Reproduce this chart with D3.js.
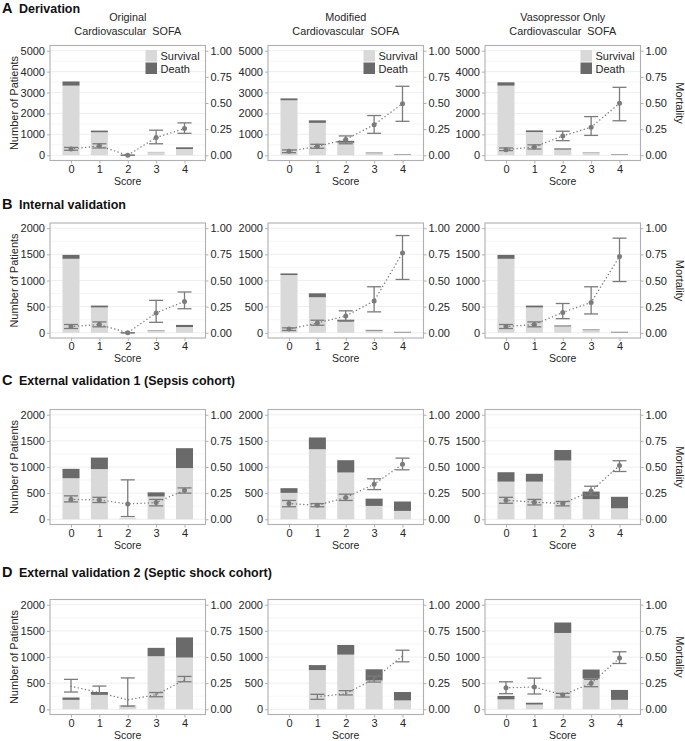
<!DOCTYPE html>
<html><head><meta charset="utf-8">
<script src="https://cdn.jsdelivr.net/npm/d3@7"></script>
<style>body{margin:0;background:#fff}</style>
</head><body>
<svg id="c" width="685" height="741"></svg>
<script>
// ---------- data ----------
const scores = ["0","1","2","3","4"];
const methodLine1 = ["Original","Modified","Vasopressor Only"];
const methodLine2 = ["Cardiovascular  SOFA","Cardiovascular  SOFA","Cardiovascular  SOFA"];
const rowLetters = ["A","B","C","D"];
const rowTitles = ["Derivation","Internal validation","External validation 1 (Sepsis cohort)","External validation 2 (Septic shock cohort)"];
const countTicksA = [0,1000,2000,3000,4000,5000];
const countTicksOther = [0,500,1000,1500,2000];
const mortTicks = [0,0.25,0.5,0.75,1];
const mortTickLabels = ["0.00","0.25","0.50","0.75","1.00"];
const legendLabels = ["Survival","Death"];

// Derivation
const derivSurvival = [[3330,1100,15,150,300],[2630,1550,600,100,25],[3330,1110,270,110,25]];
const derivDeath    = [[200,80,0,10,80],[90,120,90,30,25],[160,80,60,20,25]];
const derivMortality= [[0.06,0.09,0,0.17,0.255],[0.038,0.086,0.15,0.293,0.494],[0.054,0.08,0.185,0.268,0.497]];
const derivLower    = [[0.048,0.07,0,0.11,0.21],[0.025,0.067,0.11,0.21,0.325],[0.045,0.06,0.14,0.19,0.33]];
const derivUpper    = [[0.075,0.11,0,0.24,0.31],[0.051,0.105,0.185,0.38,0.66],[0.07,0.10,0.23,0.37,0.65]];
// Internal validation
const intSurvival = [[1415,485,5,45,110],[1105,680,215,40,5],[1415,485,120,50,5]];
const intDeath    = [[75,35,0,8,40],[30,75,35,15,13],[75,35,20,13,14]];
const intMortality= [[0.06,0.079,0,0.19,0.30],[0.035,0.094,0.16,0.305,0.764],[0.06,0.079,0.195,0.29,0.73]];
const intLower    = [[0.041,0.057,0,0.10,0.23],[0.022,0.072,0.113,0.20,0.51],[0.041,0.057,0.135,0.18,0.49]];
const intUpper    = [[0.079,0.104,0,0.31,0.39],[0.047,0.12,0.21,0.44,0.93],[0.079,0.104,0.28,0.44,0.905]];
// External validation 1
const ext1Survival = [[785,960,12,435,980],[505,1340,895,255,160],[720,720,1125,385,210]];
const ext1Death    = [[180,220,2,80,380],[90,225,235,140,180],[180,150,200,145,220]];
const ext1Mortality= [[0.19,0.185,0.147,0.16,0.278],[0.15,0.134,0.208,0.335,0.527],[0.182,0.163,0.15,0.27,0.514]];
const ext1Lower    = [[0.166,0.16,0.026,0.128,0.25],[0.12,0.12,0.18,0.284,0.473],[0.153,0.137,0.128,0.23,0.457]];
const ext1Upper    = [[0.224,0.21,0.377,0.19,0.30],[0.18,0.15,0.24,0.387,0.585],[0.21,0.19,0.17,0.316,0.56]];
// External validation 2
const ext2Survival = [[180,280,65,1015,990],[0,750,1045,550,170],[190,90,1460,585,180]];
const ext2Death    = [[45,50,6,160,385],[0,95,185,215,160],[65,35,200,175,190]];
const ext2Mortality= [[0.22,0.16,0.09,0.14,0.28],[null,0.12,0.15,0.29,0.51],[0.206,0.213,0.137,0.248,0.49]];
const ext2Lower    = [[0.165,0.143,0.03,0.12,0.263],[null,0.095,0.137,0.26,0.454],[0.149,0.146,0.117,0.216,0.438]];
const ext2Upper    = [[0.286,0.222,0.30,0.16,0.314],[null,0.143,0.178,0.317,0.565],[0.263,0.298,0.152,0.286,0.55]];

// ---------- layout ----------
const survival = [derivSurvival,intSurvival,ext1Survival,ext2Survival];
const death = [derivDeath,intDeath,ext1Death,ext2Death];
const mortality = [derivMortality,intMortality,ext1Mortality,ext2Mortality];
const lower = [derivLower,intLower,ext1Lower,ext2Lower];
const upper = [derivUpper,intUpper,ext1Upper,ext2Upper];
const rowMax = [5000,2000,2000,2000];
const rowTicks = [countTicksA,countTicksOther,countTicksOther,countTicksOther];
const showPoints = [[1,1,1],[1,1,1],[1,1,1],[0,0,1]];

const colX = [50, 268, 485];
const pw = 155.5;
const rowTop = [45.5, 223, 409.5, 599.5];
const ph = 115;
const titleY = [12.5, 209, 385, 577];

const FONT = "'Liberation Sans', Arial, sans-serif";
const C_SURV = "#d9d9d9", C_DEATH = "#6a6a6a", C_ERR = "#7b7b7b", C_BORDER = "#b0b0b0", C_GRID = "#ececec", C_TXT = "#262626";

const svg = d3.select("#c").style("font-family", FONT);

rowLetters.forEach((L, r) => {
  const t = svg.append("text").attr("x", 2).attr("y", titleY[r]).attr("fill","#111").attr("font-weight","bold");
  t.append("tspan").attr("font-size", 14.5).text(L);
  t.append("tspan").attr("font-size", 12.5).attr("x", 19).text(rowTitles[r]);
});

methodLine1.forEach((m, c) => {
  const cx = colX[c] + pw/2;
  svg.append("text").attr("x", cx).attr("y", 21).attr("text-anchor","middle").attr("font-size",10.8).attr("fill",C_TXT).text(m);
  svg.append("text").attr("x", cx).attr("y", 35).attr("text-anchor","middle").attr("font-size",10.8).attr("fill",C_TXT).style("white-space","pre").text(methodLine2[c]);
});

for (let r = 0; r < 4; r++) {
  for (let c = 0; c < 3; c++) {
    const left = colX[c], top = rowTop[r], bottom = top + ph, right = left + pw;
    const g = svg.append("g");
    const x = d3.scalePoint().domain(scores).range([left, right]).padding(0.74);
    const step = x.step();
    const bw = step * 0.6;
    const M = rowMax[r];
    const yL = d3.scaleLinear().domain([-0.05*M, 1.05*M]).range([bottom, top]);
    const yR = d3.scaleLinear().domain([-0.05, 1.05]).range([bottom, top]);

    // grid (major + minor)
    const tks = rowTicks[r];
    const half = (tks[1]-tks[0])/2;
    const gridVals = d3.range(0, M + 0.1, half);
    g.selectAll(".grid").data(gridVals).enter().append("line")
      .attr("x1", left).attr("x2", right)
      .attr("y1", d => yL(d)).attr("y2", d => yL(d))
      .attr("stroke", C_GRID).attr("stroke-width", (d,i)=> i%2===0 ? 0.9 : 0.5);

    const surv = survival[r][c], dth = death[r][c];
    // bars
    g.selectAll(".sv").data(scores).enter().append("rect")
      .attr("x", d => x(d) - bw/2).attr("width", bw)
      .attr("y", (d,i) => yL(surv[i])).attr("height", (d,i) => yL(0) - yL(surv[i]))
      .attr("fill", C_SURV);
    g.selectAll(".dt").data(scores).enter().append("rect")
      .attr("x", d => x(d) - bw/2).attr("width", bw)
      .attr("y", (d,i) => yL(surv[i] + dth[i])).attr("height", (d,i) => yL(surv[i]) - yL(surv[i]+dth[i]))
      .attr("fill", C_DEATH);

    // mortality dotted line
    const mo = mortality[r][c], lo = lower[r][c], hi = upper[r][c];
    const pts = scores.map((s,i) => ({s, m: mo[i], lo: lo[i], hi: hi[i]})).filter(p => p.m !== null);
    g.append("path").datum(pts)
      .attr("d", d3.line().x(p => x(p.s)).y(p => yR(p.m)))
      .attr("fill","none").attr("stroke", C_ERR).attr("stroke-width",1.4)
      .attr("stroke-dasharray","0.1,3.6").attr("stroke-linecap","round");
    // error bars
    const cw = 7;
    pts.forEach(p => {
      const px = x(p.s);
      g.append("line").attr("x1",px).attr("x2",px).attr("y1",yR(p.lo)).attr("y2",yR(p.hi)).attr("stroke",C_ERR).attr("stroke-width",1.3);
      [p.lo, p.hi].forEach(v => g.append("line").attr("x1",px-cw).attr("x2",px+cw).attr("y1",yR(v)).attr("y2",yR(v)).attr("stroke",C_ERR).attr("stroke-width",1.3));
    });
    if (showPoints[r][c]) {
      g.selectAll(".pt").data(pts).enter().append("circle")
        .attr("cx", p => x(p.s)).attr("cy", p => yR(p.m)).attr("r", 2.5).attr("fill", C_ERR);
    }

    // border
    g.append("rect").attr("x",left).attr("y",top).attr("width",pw).attr("height",ph)
      .attr("fill","none").attr("stroke",C_BORDER).attr("stroke-width",1.1);

    // axes
    const axL = g.append("g").attr("transform",`translate(${left},0)`)
      .call(d3.axisLeft(yL).tickValues(tks).tickSize(3).tickPadding(2).tickFormat(d3.format("d")));
    const axR = g.append("g").attr("transform",`translate(${right},0)`)
      .call(d3.axisRight(yR).tickValues(mortTicks).tickSize(3).tickPadding(2).tickFormat((d,i)=>mortTickLabels[i]));
    const axB = g.append("g").attr("transform",`translate(0,${bottom})`)
      .call(d3.axisBottom(x).tickSize(3).tickPadding(1.5));
    [axL,axR,axB].forEach(a => {
      a.select(".domain").remove();
      a.selectAll(".tick line").attr("stroke", C_BORDER);
      a.selectAll(".tick text").attr("font-size",11).attr("fill",C_TXT).attr("font-family",FONT);
    });

    g.append("text").attr("x",(left+right)/2).attr("y",bottom+24.3).attr("text-anchor","middle")
      .attr("font-size",10.5).attr("fill",C_TXT).text("Score");

    if (c === 0) {
      g.append("text").attr("transform",`translate(18,${(top+bottom)/2}) rotate(-90)`)
        .attr("text-anchor","middle").attr("font-size",11).attr("fill",C_TXT).text("Number of Patients");
    }
    if (c === 2) {
      g.append("text").attr("transform",`translate(676,${(top+bottom)/2}) rotate(90)`)
        .attr("text-anchor","middle").attr("font-size",11).attr("fill",C_TXT).text("Mortality");
    }
    if (r === 0) {
      const lx = left + 95.5, ly = top + 4.5;
      [C_SURV, C_DEATH].forEach((col,i) => {
        g.append("rect").attr("x",lx).attr("y",ly + i*12.5).attr("width",11.5).attr("height",11.5).attr("fill",col);
        g.append("text").attr("x",lx+15).attr("y",ly + i*12.5 + 10).attr("font-size",11).attr("fill",C_TXT).text(legendLabels[i]);
      });
    }
  }
}
</script>
</body></html>
